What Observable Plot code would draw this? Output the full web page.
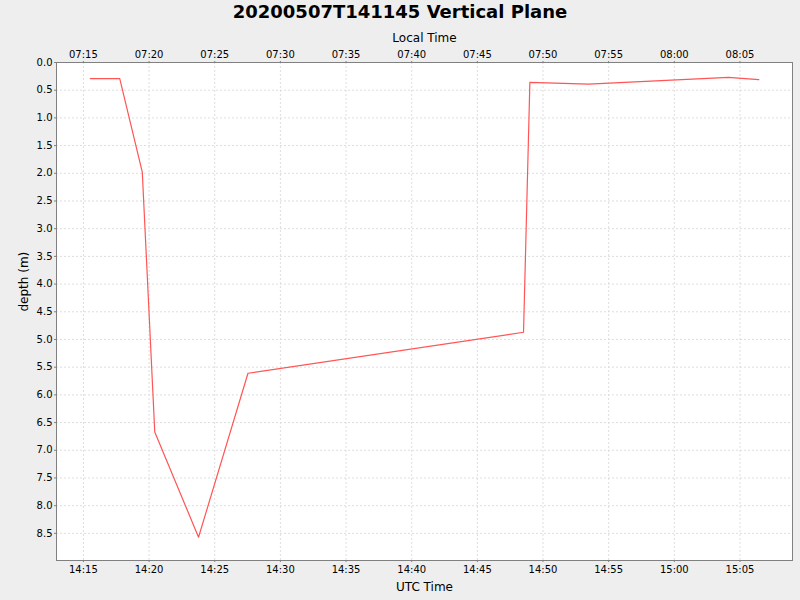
<!DOCTYPE html>
<html>
<head>
<meta charset="utf-8">
<script src="https://cdn.jsdelivr.net/npm/d3@7"></script>
<script src="https://cdn.jsdelivr.net/npm/@observablehq/plot@0.6"></script>
<style>
  html, body { margin: 0; padding: 0; background: #EEEEEE; }
  #wrap { width: 800px; height: 600px; font-family: "DejaVu Sans", sans-serif; }
  #title { height: 26px; line-height: 24px; text-align: center; font-weight: bold; font-size: 18px; color: #000; }
</style>
</head>
<body>
<div id="wrap">
  <div id="title">20200507T141145 Vertical Plane</div>
  <div id="chart"></div>
</div>
<script>
// UTC times of the samples (2020-05-07)
const times = ["14:15:31", "14:17:46", "14:19:29", "14:20:26", "14:23:46", "14:27:32",
               "14:48:31", "14:49:00", "14:53:28", "15:04:07", "15:06:26"];
// depth in metres
const depths = [0.29, 0.29, 1.98, 6.67, 8.57, 5.61, 4.87, 0.36, 0.39, 0.27, 0.31];
// axis settings
const yTicks = [0, 0.5, 1, 1.5, 2, 2.5, 3, 3.5, 4, 4.5, 5, 5.5, 6, 6.5, 7, 7.5, 8, 8.5];
const localOffsetHours = -7;
const xStart = "14:12:57", xEnd = "15:09:00";
const yMax = 8.99;

const toDate = s => { const [h, m, sec] = s.split(":").map(Number); return new Date(Date.UTC(2020, 4, 7, h, m, sec)); };
const data = times.map((t, i) => ({ time: toDate(t), depth: depths[i] }));
const fmt = d3.utcFormat("%H:%M");

const chart = Plot.plot({
  width: 800,
  height: 574,
  marginTop: 36,
  marginBottom: 40,
  marginLeft: 56,
  marginRight: 8,
  style: { background: "transparent", fontFamily: "DejaVu Sans, sans-serif", fontSize: "10px", color: "#000" },
  x: { type: "utc", domain: [toDate(xStart), toDate(xEnd)], label: null },
  y: { domain: [0, yMax], reverse: true, label: null },
  marks: [
    Plot.frame({ fill: "white", stroke: "none" }),
    Plot.gridX({ ticks: d3.utcMinute.every(5), stroke: "#dddddd", strokeOpacity: 1, strokeDasharray: "2,2" }),
    Plot.gridY(yTicks, { stroke: "#dddddd", strokeOpacity: 1, strokeDasharray: "2,2" }),
    Plot.frame({ stroke: "#808080" }),
    Plot.axisX({ anchor: "bottom", ticks: d3.utcMinute.every(5), tickFormat: fmt, tickSize: 2, tickPadding: 3, stroke: "#808080", label: null, fontSize: 10 }),
    Plot.axisX({ anchor: "top", ticks: d3.utcMinute.every(5), tickFormat: d => fmt(new Date(+d + localOffsetHours * 3600e3)), tickSize: 2, tickPadding: 3, stroke: "#808080", label: null, fontSize: 10 }),
    Plot.axisY(yTicks, { anchor: "left", tickFormat: d3.format(".1f"), tickSize: 2, tickPadding: 2, stroke: "#808080", label: null, fontSize: 10 }),
    Plot.text(["UTC Time"], { frameAnchor: "bottom", dy: 30, fontSize: 12, fill: "#000" }),
    Plot.text(["Local Time"], { frameAnchor: "top", dy: -29, fontSize: 12, fill: "#000" }),
    Plot.text(["depth (m)"], { frameAnchor: "left", dx: -32, rotate: -90, fontSize: 12, fill: "#000" }),
    Plot.line(data, { x: "time", y: "depth", stroke: "#FF5555", strokeWidth: 1.2 })
  ]
});
document.getElementById("chart").appendChild(chart);
</script>
</body>
</html>
